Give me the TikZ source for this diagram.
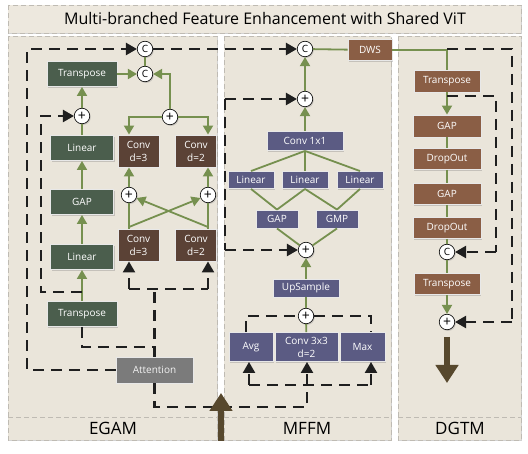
\documentclass[tikz,border=0pt]{standalone}
\usepackage{fontspec}
\setmainfont{Open Sans}
\usetikzlibrary{arrows.meta,shadows,calc}
\definecolor{panel}{HTML}{EAE5DA}
\definecolor{titlebg}{HTML}{EDE8DE}
\definecolor{frame}{HTML}{BFBBB3}
\definecolor{egreen}{HTML}{4B5E4D}
\definecolor{cbrown}{HTML}{5B4236}
\definecolor{dbrown}{HTML}{8A5E45}
\definecolor{mslate}{HTML}{5B5B83}
\definecolor{attgray}{HTML}{7B7B7B}
\definecolor{gline}{HTML}{76904F}
\definecolor{bigarrow}{HTML}{57482D}
\begin{document}
\begin{tikzpicture}[x=1pt,y=-1pt,
  shad/.style={drop shadow={opacity=0.35,shadow xshift=1pt,shadow yshift=-1.2pt}},
  box/.style={draw=white!82!gray, line width=0.9pt, text=white, inner sep=0pt,
    font=\fontsize{10}{13}\selectfont, align=center, shad},
  gbox/.style={box, fill=egreen},
  cbox/.style={box, fill=cbrown, minimum width=41pt, minimum height=32pt},
  dbox/.style={box, fill=dbrown},
  mbox/.style={box, fill=mslate},
  abox/.style={box, fill=attgray, text=white!90!gray},
  circ/.style={circle, draw=black, line width=0.6pt, fill=white, minimum size=15.5pt,
    inner sep=0pt, font=\fontsize{10}{10}\selectfont, shad},
  plus/.style={circ, font=\fontsize{14}{14}\selectfont},
  gl/.style={draw=gline, line width=1.8pt},
  garr/.style={gl, -{Triangle[length=9pt,width=10pt]}},
  dline/.style={draw=black!88, line width=2.2pt, dash pattern=on 11pt off 7pt},
  darr/.style={dline, -{Triangle[length=11pt,width=12pt]}},
  bigarr/.style={draw=bigarrow, line width=6pt, -{Triangle[length=18pt,width=22pt]}},
  paneldraw/.style={draw=frame, line width=0.9pt, dash pattern=on 5pt off 3pt},
  lbl/.style={font=\fontsize{17}{17}\selectfont}
]
\useasboundingbox (0,0) rectangle (528,454);
\fill[white] (0,0) rectangle (528,454);

% panels
\path[fill=titlebg, paneldraw, shad] (8,5) rectangle (521,33);
\node[font=\fontsize{16}{16}\selectfont] (title) at (265,19) {Multi-branched Feature Enhancement with Shared ViT};
\path[fill=panel, paneldraw, shad] (8,36) rectangle (217,440);
\path[fill=panel, paneldraw, shad] (224,36) rectangle (391,440);
\path[fill=panel, paneldraw, shad] (398,36) rectangle (521,440);
\draw[paneldraw] (8,417) -- (217,417);
\draw[paneldraw] (224,417) -- (391,417);
\draw[paneldraw] (398,417) -- (521,417);
\node[lbl] (egam) at (113,428) {EGAM};
\node[lbl] (mffm) at (307,428) {MFFM};
\node[lbl] (dgtm) at (460,428) {DGTM};

% ---------------- nodes ----------------
\node[gbox, minimum width=70pt, minimum height=25pt] (tr1) at (82,74) {Transpose};
\node[gbox, minimum width=63pt, minimum height=25pt] (lin1) at (82,148) {Linear};
\node[gbox, minimum width=63pt, minimum height=25pt] (gap1) at (82,202) {GAP};
\node[gbox, minimum width=63pt, minimum height=25pt] (lin2) at (82,257) {Linear};
\node[gbox, minimum width=70pt, minimum height=25pt] (tr2) at (82,314) {Transpose};
\node[cbox] (c3u) at (138.5,151) {Conv\\d=3};
\node[cbox] (c2u) at (196,151) {Conv\\d=2};
\node[cbox] (c3l) at (138.5,245) {Conv\\d=3};
\node[cbox] (c2l) at (196,245) {Conv\\d=2};
\node[abox, minimum width=77pt, minimum height=26pt] (att) at (154.5,370) {Attention};

\node[circ] (C1) at (145,49) {C};
\node[circ] (C2) at (145,74) {C};
\node[plus] (P1) at (82,116) {+};
\node[plus] (P2) at (170,117) {+};
\node[plus] (P3) at (129,195) {+};
\node[plus] (P4) at (208,195) {+};

\node[circ] (CM) at (305,49) {C};
\node[dbox, minimum width=44pt, minimum height=21pt] (dws) at (370,50) {DWS};
\node[plus] (PM1) at (305,99) {+};
\node[mbox, minimum width=76pt, minimum height=19pt] (cv1) at (305,141) {Conv 1x1};
\node[mbox, minimum width=46pt, minimum height=17pt] (linL) at (251,180) {Linear};
\node[mbox, minimum width=46pt, minimum height=17pt] (linM) at (305,180) {Linear};
\node[mbox, minimum width=46pt, minimum height=17pt] (linR) at (360,180) {Linear};
\node[mbox, minimum width=42pt, minimum height=18pt] (gapm) at (277,219) {GAP};
\node[mbox, minimum width=42pt, minimum height=18pt] (gmp) at (337,219) {GMP};
\node[plus] (PM2) at (306,250) {+};
\node[mbox, minimum width=66pt, minimum height=18pt] (ups) at (306,288) {UpSample};
\node[plus] (PM3) at (306,316) {+};
\node[mbox, minimum width=44pt, minimum height=29pt] (avg) at (251,347) {Avg};
\node[mbox, minimum width=63pt, minimum height=29pt] (cv3) at (306.5,347) {Conv 3x3\\d=2};
\node[mbox, minimum width=45pt, minimum height=29pt] (max) at (362.5,347) {Max};

\node[dbox, minimum width=66pt, minimum height=22pt] (trd) at (447,81) {Transpose};
\node[dbox, minimum width=68pt, minimum height=22pt] (gapd) at (447,126) {GAP};
\node[dbox, minimum width=68pt, minimum height=21pt] (dropd) at (447,159) {DropOut};
\node[dbox, minimum width=68pt, minimum height=21pt] (gapd2) at (447,194) {GAP};
\node[dbox, minimum width=68pt, minimum height=21pt] (dropd2) at (447,228) {DropOut};
\node[circ] (CD) at (447,252) {C};
\node[dbox, minimum width=66pt, minimum height=21pt] (trd2) at (447,284) {Transpose};
\node[plus] (PD) at (447,322) {+};

% ---------------- EGAM connectors ----------------
\coordinate (j3) at (129,227);
\coordinate (j2) at (208,227);
\coordinate (a3) at (129,289);
\coordinate (a2) at (208,289);
\coordinate (am) at (154.5,289);
\coordinate (tb) at (82,347);
\coordinate (tm) at (154.5,347);
\coordinate (ab) at (154.5,407);
\coordinate (k1) at (27,370);
\coordinate (k2) at (27,49);
\coordinate (r0) at (82,292);
\coordinate (r1) at (41,292);
\coordinate (r2) at (41,116);

\draw[gl] (C2) -- (C1);
\draw[garr] (tr1) -- (C2);
\draw[garr] (P1) -- (tr1);
\draw[gl] (lin1) -- (P1);
\draw[garr] (gap1) -- (lin1);
\draw[garr] (lin2) -- (gap1);
\draw[garr] (tr2) -- (lin2);
\draw[garr] (P2) |- (C2);
\draw[garr] (P2) -| (c3u.north -| P3);
\draw[garr] (P2) -| (c2u.north -| P4);
\draw[garr] (P3) -- (c3u.south -| P3);
\draw[garr] (P4) -- (c2u.south -| P4);
\draw[gl] (c3l.north -| j3) -- (j3) -- (P3);
\draw[gl] (c2l.north -| j2) -- (j2) -- (P4);
\draw[garr] (j3) -- (P4);
\draw[garr] (j2) -- (P3);

\draw[darr] (att.west) -- (k1) -- (k2) -- (C1);
\draw[darr] (C1) -- (CM);
\draw[darr] (r0) -- (r1) -- (r2) -- (P1);
\draw[dline] (tr2.south) -- (tb) -- (tm);
\draw[dline] (att.north) -- (am);
\draw[dline] (a3) -- (a2);
\draw[darr] (a3) -- (c3l.south -| a3);
\draw[darr] (a2) -- (c2l.south -| a2);

% ---------------- MFFM connectors ----------------
\draw[gl] (CM) -- (dws);
\draw[garr] (PM1) -- (CM);
\draw[garr] (cv1) -- (PM1);
\draw[gl] (linL.north) -- (cv1.south);
\draw[gl] (linM.north) -- (cv1.south);
\draw[gl] (linR.north) -- (cv1.south);
\draw[gl] (gapm.north) -- (linL.south);
\draw[gl] (gapm.north) -- (linM.south);
\draw[gl] (gmp.north) -- (linM.south);
\draw[gl] (gmp.north) -- (linR.south);
\draw[gl] (gapm.south) -- (PM2);
\draw[gl] (gmp.south) -- (PM2);
\draw[garr] (ups) -- (PM2);
\draw[gl] (PM3) -- (ups);
\draw[gl] (cv3) -- (PM3);

\coordinate (m1) at (225,99);
\coordinate (m2) at (225,250);
\coordinate (q1) at (246,316);
\coordinate (q2) at (371,316);
\coordinate (b1) at (307,407);
\coordinate (b2) at (307,385);
\coordinate (b3) at (249,385);
\coordinate (b4) at (371,385);
\draw[darr] (m1) -- (PM1);
\draw[dline] (m1) -- (m2);
\draw[darr] (m2) -- (PM2);
\draw[dline] (avg.north -| q1) -- (q1) -- (PM3);
\draw[dline] (PM3) -- (q2) -- (max.north -| q2);
\draw[dline] (att.south) -- (ab) -- (b1) -- (b2);
\draw[dline] (b3) -- (b4);
\draw[darr] (b3) -- (avg.south -| b3);
\draw[darr] (b2) -- (cv3.south -| b2);
\draw[darr] (b4) -- (max.south -| b4);

\coordinate (big1) at (221,441);
\coordinate (big2) at (221,393);
\draw[bigarr] (big1) -- (big2);

% ---------------- DGTM connectors ----------------
\draw[gl] (dws.east) -| (trd.north);
\draw[garr] (trd) -- (gapd);
\draw[gl] (gapd) -- (dropd);
\draw[gl] (dropd) -- (gapd2);
\draw[gl] (gapd2) -- (dropd2);
\draw[gl] (dropd2) -- (CD);
\draw[gl] (CD) -- (trd2);
\draw[garr] (trd2) -- (PD);

\coordinate (g1) at (447,49);
\coordinate (g2) at (512,49);
\coordinate (g3) at (512,322);
\coordinate (h1) at (447,96);
\coordinate (h2) at (496,96);
\coordinate (h3) at (496,252);
\draw[dline] (g1) -- (g2) -- (g3);
\draw[darr] (g3) -- (PD);
\draw[dline] (h1) -- (h2) -- (h3);
\draw[darr] (h3) -- (CD);

\coordinate (pd1) at (447,337);
\coordinate (pd2) at (447,383);
\draw[bigarr] (pd1) -- (pd2);
\end{tikzpicture}
\end{document}
